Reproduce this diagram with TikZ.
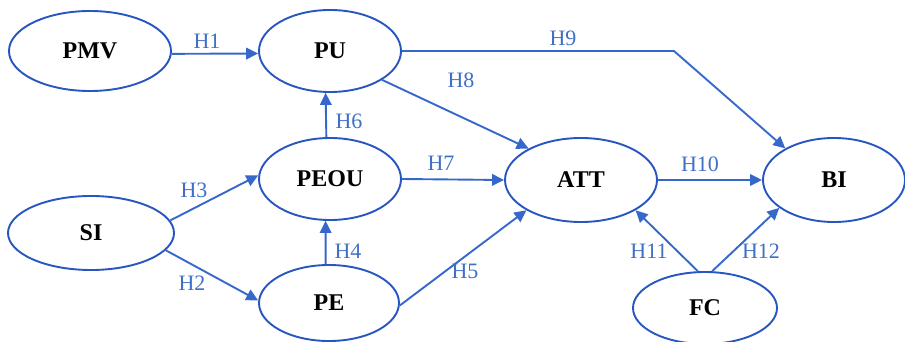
\documentclass[tikz,border=0pt]{standalone}
\usepackage{fontspec}
\setmainfont{Liberation Serif}
\usetikzlibrary{shapes.geometric,arrows.meta}
\definecolor{edgeblue}{RGB}{54,104,204}
\definecolor{ringblue}{RGB}{40,86,192}
\definecolor{labblue}{RGB}{64,112,198}
\tikzset{
  construct/.style={draw=ringblue, line width=1.9pt, ellipse, inner sep=0pt,
    font=\fontsize{24}{28}\selectfont\bfseries, text=black},
  link/.style={draw=edgeblue, line width=1.9pt, -{Triangle[length=12pt,width=11.5pt]}},
  hyp/.style={text=labblue, font=\fontsize{22}{26}\selectfont, inner sep=0pt}
}
\begin{document}
\begin{tikzpicture}[x=1pt,y=-1pt]
\useasboundingbox (0,0) rectangle (905,342);
\clip (0,0) rectangle (905,342);
\fill[white] (0,0) rectangle (905,342);
% constructs
\node[construct, minimum width=162pt, minimum height=80pt] (PMV) at (90,51) {PMV};
\node[construct, minimum width=142pt, minimum height=82pt] (PU) at (330,51) {PU};
\node[construct, minimum width=142pt, minimum height=82pt] (PEOU) at (330,179) {PEOU};
\node[construct, minimum width=166pt, minimum height=74pt] (SI) at (91,233) {SI};
\node[construct, minimum width=140pt, minimum height=76pt] (PE) at (329,303) {PE};
\node[construct, minimum width=152pt, minimum height=84pt] (ATT) at (581,180) {ATT};
\node[construct, minimum width=142pt, minimum height=84pt] (BI) at (834,180) {BI};
\node[construct, minimum width=144pt, minimum height=72pt] (FC) at (705,308) {FC};
\coordinate (bend) at (674,51);
% connectors
\draw[link] (PMV.-2) -- (PU.182);
\draw[link] (PU.east) -- (bend) -- (BI.147);
\draw[link] (PU.-29) -- (ATT.149);
\draw[link] (PEOU.95.6) -- (PU.264.4);
\draw[link] (PEOU.east) -- (ATT.west);
\draw[link] (ATT.east) -- (BI.west);
\draw[link] (SI.9) -- (PEOU.177);
\draw[link] (SI.-13) -- (PE.178);
\draw[link] (PE.95.6) -- (PEOU.264.4);
\draw[link] (PE.-2.5) -- (ATT.209);
\draw[link] (FC.101) -- (ATT.-29);
\draw[link] (FC.79) -- (BI.207);
% labels
\node[hyp] (h1) at (207,41) {H1};
\node[hyp] (h9) at (563,38) {H9};
\node[hyp] (h8) at (461,80) {H8};
\node[hyp] (h6) at (349,121) {H6};
\node[hyp] (h7) at (441,163) {H7};
\node[hyp] (h10) at (700,164) {H10};
\node[hyp] (h3) at (194,190) {H3};
\node[hyp] (h2) at (192,283) {H2};
\node[hyp] (h4) at (348,251) {H4};
\node[hyp] (h5) at (465,271) {H5};
\node[hyp] (h11) at (649,251) {H11};
\node[hyp] (h12) at (761,251) {H12};
\end{tikzpicture}
\end{document}
